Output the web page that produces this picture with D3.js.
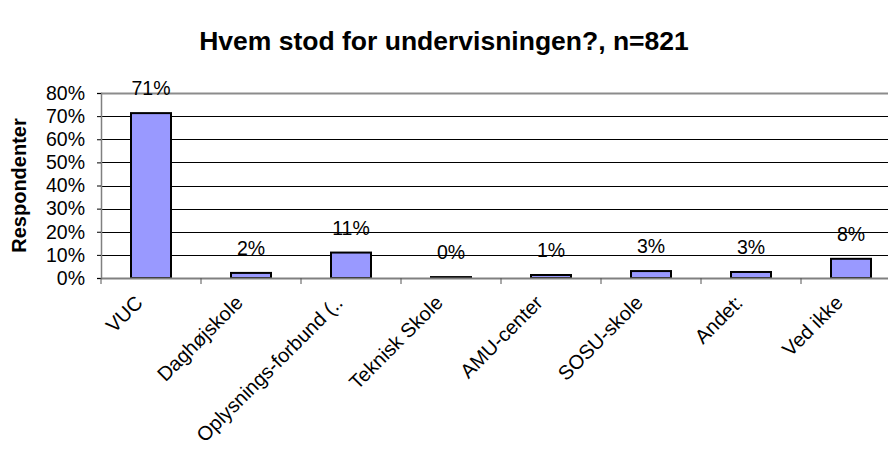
<!DOCTYPE html>
<html><head><meta charset="utf-8">
<script src="https://cdn.jsdelivr.net/npm/d3@7"></script>
<style>body{margin:0;background:#fff}svg{display:block;font-family:"Liberation Sans",Arial,sans-serif}</style>
</head><body>
<svg id="c" width="888" height="457"></svg>
<script>
const categories = ["VUC","Daghøjskole","Oplysnings-forbund (..","Teknisk Skole","AMU-center","SOSU-skole","Andet:","Ved ikke"];
const values = [0.713,0.022,0.110,0.004,0.013,0.030,0.026,0.083];
const yTicks = [0,0.1,0.2,0.3,0.4,0.5,0.6,0.7,0.8];
const title = "Hvem stod for undervisningen?, n=821";
const yTitle = "Respondenter";

const svg = d3.select("#c");
const m = {left:101, right:901, top:93, bottom:278};
const x = d3.scaleBand().domain(categories).range([m.left,m.right]).paddingInner(0.6).paddingOuter(0.3);
const xb = d3.scaleBand().domain(categories).range([m.left,m.right]);
const y = d3.scaleLinear().domain([0,0.8]).range([m.bottom,m.top]);
const fmt = d3.format(".0%");

svg.append("text").attr("x",444).attr("y",50).attr("text-anchor","middle")
  .attr("font-weight","bold").attr("font-size",26.5).text(title);

// gridlines
svg.append("g").selectAll("line").data(yTicks.slice(1)).join("line")
  .attr("x1",m.left).attr("x2",m.right).attr("y1",d=>Math.round(y(d))+0.5).attr("y2",d=>Math.round(y(d))+0.5)
  .attr("stroke",(d,i,a)=>i===a.length-1?"#8c8c8c":"#000").attr("stroke-width",(d,i,a)=>i===a.length-1?2:1);

// y axis
const ya = svg.append("g").attr("transform",`translate(${m.left},0)`)
  .call(d3.axisLeft(y).tickValues(yTicks).tickFormat(fmt).tickSize(4).tickPadding(12));
ya.select(".domain").attr("stroke","#808080").attr("stroke-width",1.5);
ya.selectAll(".tick line").attr("stroke","#000");
ya.selectAll(".tick text").attr("font-size",19.5).attr("font-family","Liberation Sans, Arial, sans-serif").attr("fill","#000");

// bars
svg.append("g").selectAll("rect").data(categories).join("rect")
  .attr("x",d=>x(d)).attr("width",x.bandwidth())
  .attr("y",(d,i)=>y(values[i])).attr("height",(d,i)=>y(0)-y(values[i]))
  .attr("fill","#9999ff").attr("stroke","#000").attr("stroke-width",2);

// x axis
const xa = svg.append("g").attr("transform",`translate(0,${m.bottom})`)
  .call(d3.axisBottom(xb).tickSize(0).tickFormat(""));
xa.select(".domain").attr("stroke","#808080").attr("stroke-width",2);
xa.selectAll(".tick").remove();
svg.append("g").selectAll("line").data(d3.range(categories.length+1)).join("line")
  .attr("x1",i=>m.left+i*xb.step()).attr("x2",i=>m.left+i*xb.step())
  .attr("y1",m.bottom).attr("y2",m.bottom+6).attr("stroke","#555");

// value labels
svg.append("g").selectAll("text").data(categories).join("text")
  .attr("x",d=>x(d)+x.bandwidth()/2).attr("y",(d,i)=>y(values[i])-18)
  .attr("text-anchor","middle").attr("font-size",19.5).text((d,i)=>fmt(values[i]));

// category labels
svg.append("g").selectAll("text").data(categories).join("text")
  .attr("text-anchor","end").attr("font-size",20)
  .attr("transform",d=>`translate(${xb(d)+xb.bandwidth()/2-7},${m.bottom+26}) rotate(-45)`)
  .text(d=>d);

// y title
svg.append("text").attr("transform",`translate(26,${(m.top+m.bottom)/2}) rotate(-90)`)
  .attr("text-anchor","middle").attr("font-weight","bold").attr("font-size",20).text(yTitle);
</script>
</body></html>
